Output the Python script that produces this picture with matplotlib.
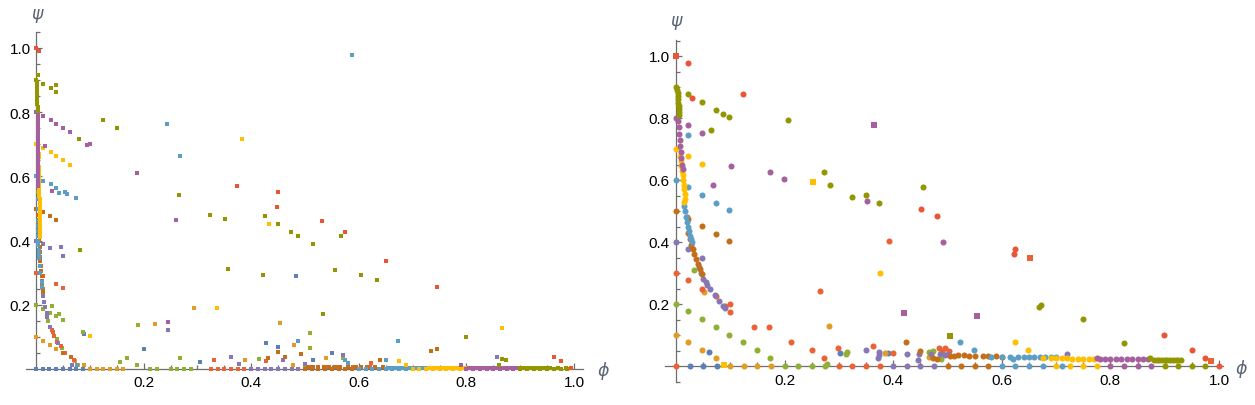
import matplotlib
matplotlib.use("Agg")
import matplotlib.pyplot as plt
from matplotlib.ticker import FixedLocator, FormatStrFormatter

# Mathematica default palette (series index 1..11)
palette = ["#5E81B5", "#E19C24", "#8FB032", "#EB6235", "#8778B3", "#C56E1A",
           "#5D9EC7", "#FFBF00", "#A5609D", "#929600", "#E95536"]

# ---------------- LEFT PANEL DATA (phi, psi) ----------------
left_blue = [(0.0, 0), (0.0125, 0), (0.025, 0), (0.0375, 0), (0.05, 0), (0.0625, 0), (0.075, 0), (0.0875, 0),
             (0.09, 0.108), (0.2, 0.061), (0.305, 0.021), (0.483, 0.289), (0.4275, 0.08), (0.449, 0.067),
             (0.515, 0.027), (0.551, 0.049)]
left_orange = [(0.1, 0), (0.1125, 0), (0.125, 0), (0.1375, 0), (0.15, 0), (0.1625, 0),
               (0.0, 0.1), (0.0136, 0.086), (0.026, 0.074), (0.038, 0.061), (0.073, 0.025), (0.0885, 0.012),
               (0.0785, 0.012), (0.222, 0.139), (0.294, 0.189), (0.454, 0.142), (0.48, 0.074), (0.389, 0.027),
               (0.478, 0.012), (0.539, 0.033)]
left_green = [(0.2125, 0), (0.225, 0), (0.25, 0), (0.2625, 0), (0.275, 0), (0.2875, 0),
              (0.0, 0.2), (0.0136, 0.188), (0.029, 0.195), (0.026, 0.176), (0.038, 0.164), (0.043, 0.17),
              (0.051, 0.152), (0.023, 0.148), (0.0385, 0.093), (0.048, 0.064), (0.088, 0.114),
              (0.156, 0.023), (0.17, 0.033), (0.19, 0.136), (0.188, 0.011), (0.268, 0.033), (0.415, 0.03),
              (0.51, 0.111), (0.51, 0.064), (0.5, 0.006), (0.571, 0.033)]
left_red = [(0.325, 0), (0.3375, 0), (0.35, 0), (0.3625, 0), (0.375, 0), (0.3875, 0),
            (0.0, 0.3), (0.0136, 0.289), (0.038, 0.264), (0.051, 0.251),
            (0.021, 0.168), (0.029, 0.122), (0.031, 0.116), (0.034, 0.104), (0.0385, 0.085), (0.046, 0.071),
            (0.054, 0.049), (0.071, 0.027), (0.331, 0.027), (0.427, 0.026), (0.623, 0.018),
            (0.51, 0.005), (0.54, 0.005), (0.56, 0.005), (0.59, 0.005), (0.62, 0.005)]
left_purple = [(0.4, 0), (0.4125, 0), (0.425, 0), (0.4375, 0), (0.45, 0), (0.4625, 0), (0.475, 0), (0.4875, 0),
               (0.0, 0.4), (0.0136, 0.388), (0.026, 0.376), (0.046, 0.379), (0.051, 0.351),
               (0.0136, 0.227), (0.015, 0.21), (0.017, 0.192), (0.020, 0.176), (0.021, 0.161), (0.026, 0.13),
               (0.0415, 0.08), (0.0675, 0.014), (0.246, 0.121), (0.362, 0.036), (0.377, 0.016), (0.46, 0.027),
               (0.5, 0.015), (0.571, 0.043), (0.856, 0.036), (0.86, 0.006)]
left_dorange = [(0.5, 0), (0.5125, 0), (0.525, 0), (0.5375, 0), (0.55, 0), (0.5625, 0), (0.575, 0), (0.5875, 0),
                (0.0, 0.5), (0.0136, 0.488), (0.026, 0.476), (0.038, 0.463),
                (0.003, 0.5), (0.003, 0.48), (0.004, 0.465), (0.004, 0.45), (0.005, 0.435), (0.006, 0.42),
                (0.006, 0.4), (0.007, 0.38), (0.007, 0.365), (0.008, 0.35), (0.008, 0.335), (0.009, 0.32),
                (0.0095, 0.305), (0.0105, 0.29), (0.011, 0.275), (0.012, 0.26), (0.013, 0.25), (0.0136, 0.239),
                (0.051, 0.049), (0.0645, 0.036),
                (0.45, 0.052), (0.463, 0.036), (0.432, 0.033), (0.493, 0.046), (0.64, 0.027), (0.735, 0.055),
                (0.746, 0.061),
                (0.505, 0.005), (0.515, 0.005), (0.525, 0.005), (0.535, 0.005), (0.545, 0.005), (0.555, 0.005),
                (0.565, 0.005), (0.58, 0.005), (0.595, 0.005), (0.605, 0.005), (0.615, 0.005), (0.63, 0.005),
                (0.645, 0.005)]
left_lblue = [(0.6, 0), (0.6125, 0), (0.625, 0), (0.6375, 0), (0.65, 0), (0.6625, 0), (0.675, 0), (0.6875, 0),
              (0.0, 0.6), (0.0136, 0.587), (0.027, 0.575), (0.038, 0.563), (0.043, 0.547), (0.054, 0.55),
              (0.058, 0.544), (0.075, 0.532),
              (0.004, 0.40), (0.0045, 0.385), (0.005, 0.37), (0.0055, 0.357), (0.006, 0.345), (0.007, 0.32),
              (0.008, 0.3), (0.0105, 0.27), (0.012, 0.255),
              (0.003, 0.415), (0.003, 0.43), (0.003, 0.445), (0.003, 0.46), (0.003, 0.5), (0.003, 0.53),
              (0.003, 0.55), (0.003, 0.57),
              (0.244, 0.762), (0.268, 0.665), (0.588, 0.977), (0.4875, 0.086), (0.672, 0.086), (0.65, 0.027),
              (0.0765, 0.012), (0.575, 0.027), (0.58, 0.018),
              (0.655, 0.004), (0.662, 0.004), (0.669, 0.004), (0.676, 0.004), (0.683, 0.004), (0.69, 0.004),
              (0.697, 0.004), (0.704, 0.004), (0.711, 0.004), (0.718, 0.004), (0.725, 0.004)]
left_yellow = [(0.7, 0), (0.7125, 0), (0.725, 0), (0.7375, 0), (0.75, 0), (0.7625, 0), (0.775, 0), (0.7875, 0),
               (0.0, 0.7), (0.0136, 0.687), (0.027, 0.675), (0.038, 0.662), (0.051, 0.65), (0.064, 0.637),
               (0.004, 0.68), (0.005, 0.67), (0.005, 0.66), (0.004, 0.65), (0.004, 0.64), (0.005, 0.63),
               (0.005, 0.62), (0.005, 0.61), (0.005, 0.6), (0.006, 0.59), (0.006, 0.58), (0.006, 0.57),
               (0.006, 0.56), (0.006, 0.55), (0.006, 0.54), (0.007, 0.53), (0.007, 0.52), (0.007, 0.51),
               (0.007, 0.5), (0.007, 0.49), (0.007, 0.48), (0.008, 0.47), (0.008, 0.46), (0.008, 0.45),
               (0.008, 0.44), (0.008, 0.43), (0.008, 0.42), (0.008, 0.41),
               (0.382, 0.715), (0.434, 0.452), (0.337, 0.189), (0.1, 0.103), (0.867, 0.127), (0.675, 0.024),
               (0.688, 0.012),
               (0.73, 0.004), (0.737, 0.004), (0.744, 0.004), (0.751, 0.004), (0.758, 0.004), (0.765, 0.004),
               (0.772, 0.004), (0.779, 0.004), (0.786, 0.004), (0.793, 0.004), (0.8, 0.004)]
left_magenta = [(0.8, 0), (0.8125, 0), (0.825, 0), (0.8375, 0), (0.85, 0), (0.8625, 0), (0.875, 0), (0.8875, 0),
                (0.0, 0.8), (0.0136, 0.787), (0.027, 0.775), (0.038, 0.762), (0.051, 0.75), (0.064, 0.737),
                (0.017, 0.694), (0.095, 0.697), (0.101, 0.70), (0.03, 0.553), (0.188, 0.612), (0.26, 0.463),
                (0.246, 0.145), (0.79, 0.012),
                (0.003, 0.79), (0.003, 0.78), (0.003, 0.77), (0.003, 0.76), (0.003, 0.75), (0.003, 0.74),
                (0.004, 0.73), (0.004, 0.72), (0.004, 0.71), (0.004, 0.70), (0.004, 0.69), (0.004, 0.68),
                (0.004, 0.67), (0.004, 0.66), (0.004, 0.65), (0.004, 0.64), (0.004, 0.63), (0.004, 0.62),
                (0.004, 0.61), (0.004, 0.60), (0.004, 0.59), (0.004, 0.58), (0.004, 0.57),
                (0.805, 0.004), (0.812, 0.004), (0.819, 0.004), (0.826, 0.004), (0.833, 0.004), (0.84, 0.004),
                (0.847, 0.004), (0.854, 0.004), (0.861, 0.004), (0.868, 0.004), (0.875, 0.004), (0.882, 0.004),
                (0.889, 0.004), (0.896, 0.004)]
left_olive = [(0.9, 0), (0.9125, 0), (0.925, 0), (0.9375, 0), (0.95, 0), (0.9625, 0), (0.975, 0), (0.9875, 0),
              (0.0, 0.9), (0.004, 0.915), (0.0136, 0.887), (0.027, 0.874), (0.038, 0.884), (0.038, 0.862),
              (0.125, 0.775), (0.151, 0.75), (0.0805, 0.718), (0.082, 0.37),
              (0.001, 0.895), (0.001, 0.885), (0.001, 0.875), (0.001, 0.865), (0.001, 0.855), (0.001, 0.845),
              (0.002, 0.835), (0.002, 0.825), (0.003, 0.815), (0.003, 0.805),
              (0.265, 0.541), (0.324, 0.479), (0.352, 0.466), (0.356, 0.31), (0.4225, 0.292), (0.426, 0.476),
              (0.45, 0.452), (0.4745, 0.426), (0.4875, 0.413), (0.514, 0.388), (0.566, 0.413), (0.556, 0.307),
              (0.605, 0.292), (0.634, 0.276), (0.534, 0.17), (0.8, 0.099), (0.867, 0.031), (0.874, 0.027),
              (0.86, 0.012),
              (0.9, 0.004), (0.907, 0.004), (0.914, 0.004), (0.921, 0.004), (0.928, 0.004), (0.935, 0.004),
              (0.942, 0.004), (0.949, 0.004), (0.956, 0.004), (0.97, 0.003), (0.985, 0.003)]
left_red2 = [(0.0, 1.0), (0.006, 0.99), (0.374, 0.569), (0.45, 0.55), (0.4485, 0.504), (0.532, 0.46),
             (0.575, 0.426), (0.651, 0.338), (0.746, 0.254), (0.962, 0.036), (0.975, 0.024), (0.995, 0.003)]

# ---------------- RIGHT PANEL DATA (phi, psi) ----------------
right_blue = [(0.025, 0), (0.05, 0), (0.075, 0), (0.061, 0.044), (0.302, 0.042), (0.39, 0.041)]
right_orange = [(0.1, 0), (0.125, 0), (0.15, 0), (0.175, 0),
                (0.0, 0.1), (0.023, 0.076), (0.048, 0.052), (0.073, 0.025), (0.052, 0.24),
                (0.282, 0.128), (0.385, 0.041), (0.466, 0.03)]
right_green = [(0.2, 0), (0.225, 0), (0.25, 0), (0.275, 0),
               (0.0, 0.2), (0.023, 0.176), (0.048, 0.152), (0.073, 0.126), (0.098, 0.1), (0.124, 0.076),
               (0.149, 0.052), (0.173, 0.025), (0.034, 0.31),
               (0.3125, 0.04), (0.314, 0.045), (0.466, 0.046), (0.474, 0.048), (0.488, 0.021), (0.278, 0.005)]
right_red = [(0.0, 0), (0.3, 0), (0.325, 0), (0.35, 0), (0.375, 0),
             (0.0, 0.3), (0.023, 0.277), (0.048, 0.25), (0.073, 0.225), (0.09, 0.195), (0.1, 0.2), (0.0995, 0.173),
             (0.144, 0.125), (0.172, 0.125), (0.211, 0.076), (0.25, 0.052), (0.273, 0.025), (0.265, 0.241),
             (0.299, 0.057), (0.363, 0.066), (0.4, 0.041), (0.485, 0.057), (0.49, 0.048), (0.495, 0.057),
             (0.503, 0.048), (0.393, 0.402)]
right_purple = [(0.4, 0), (0.425, 0), (0.45, 0), (0.475, 0),
                (0.0, 0.4), (0.023, 0.376), (0.048, 0.35),
                (0.042, 0.32), (0.046, 0.30), (0.05, 0.28), (0.055, 0.27), (0.058, 0.262), (0.063, 0.25),
                (0.071, 0.229), (0.08, 0.209), (0.086, 0.195), (0.091, 0.187),
                (0.349, 0.052), (0.373, 0.036), (0.374, 0.044), (0.372, 0.025), (0.425, 0.039), (0.445, 0.018),
                (0.447, 0.039), (0.47, 0.039), (0.487, 0.039), (0.496, 0.035), (0.5, 0.039), (0.72, 0.038)]
right_dorange = [(0.5, 0), (0.525, 0), (0.55, 0), (0.575, 0),
                 (0.0, 0.5), (0.023, 0.475), (0.048, 0.451), (0.073, 0.425), (0.098, 0.402), (0.424, 0.076),
                 (0.45, 0.05), (0.474, 0.025), (0.48, 0.021),
                 (0.02, 0.48), (0.023, 0.43), (0.026, 0.41), (0.027, 0.39), (0.031, 0.377), (0.034, 0.36),
                 (0.037, 0.345), (0.041, 0.33), (0.045, 0.313), (0.048, 0.297),
                 (0.505, 0.032), (0.512, 0.033), (0.52, 0.034), (0.53, 0.034), (0.54, 0.033), (0.55, 0.032),
                 (0.565, 0.032), (0.575, 0.031), (0.59, 0.031), (0.6, 0.03)]
right_lblue = [(0.6, 0), (0.625, 0), (0.65, 0), (0.675, 0),
               (0.0, 0.6), (0.023, 0.576), (0.048, 0.551), (0.073, 0.525), (0.098, 0.502), (0.023, 0.745),
               (0.014, 0.517), (0.016, 0.50), (0.018, 0.48), (0.02, 0.465), (0.022, 0.45), (0.024, 0.435),
               (0.026, 0.42), (0.028, 0.41), (0.029, 0.40),
               (0.523, 0.076), (0.549, 0.052), (0.58, 0.03), (0.6, 0.03), (0.615, 0.03), (0.62, 0.022),
               (0.63, 0.03), (0.64, 0.03), (0.65, 0.03), (0.66, 0.03), (0.67, 0.029), (0.68, 0.028),
               (0.69, 0.028), (0.70, 0.028), (0.71, 0.0)]
right_yellow = [(0.7, 0), (0.725, 0), (0.75, 0), (0.775, 0),
                (0.0, 0.7), (0.023, 0.676), (0.048, 0.651),
                (0.008, 0.678), (0.009, 0.66), (0.01, 0.645), (0.011, 0.63), (0.012, 0.615), (0.013, 0.6),
                (0.014, 0.585), (0.015, 0.57), (0.016, 0.555), (0.017, 0.54), (0.014, 0.528),
                (0.376, 0.299), (0.625, 0.076), (0.649, 0.052),
                (0.675, 0.025), (0.69, 0.025), (0.7, 0.025), (0.71, 0.025), (0.72, 0.025), (0.73, 0.024),
                (0.74, 0.024), (0.75, 0.024), (0.76, 0.023), (0.77, 0.023)]
right_magenta = [(0.8, 0), (0.825, 0), (0.85, 0), (0.875, 0),
                 (0.0, 0.8), (0.023, 0.776), (0.048, 0.751), (0.102, 0.644), (0.174, 0.625), (0.198, 0.602),
                 (0.069, 0.583), (0.352, 0.531), (0.492, 0.399),
                 (0.004, 0.79), (0.005, 0.77), (0.006, 0.75), (0.007, 0.73), (0.008, 0.71), (0.009, 0.69),
                 (0.01, 0.67), (0.011, 0.65), (0.012, 0.635),
                 (0.775, 0.025), (0.78, 0.021), (0.79, 0.021), (0.80, 0.021), (0.81, 0.021), (0.82, 0.021),
                 (0.83, 0.021), (0.84, 0.021), (0.85, 0.021), (0.86, 0.021), (0.87, 0.021)]
right_olive = [(0.9, 0), (0.925, 0), (0.95, 0), (0.975, 0),
               (0.0, 0.9), (0.023, 0.876), (0.048, 0.851), (0.073, 0.825), (0.087, 0.812), (0.098, 0.802),
               (0.207, 0.793), (0.065, 0.76), (0.273, 0.625), (0.284, 0.583), (0.325, 0.545), (0.349, 0.551),
               (0.374, 0.525), (0.455, 0.576), (0.668, 0.189), (0.673, 0.197), (0.75, 0.152), (0.825, 0.073),
               (0.873, 0.025),
               (0.002, 0.89), (0.003, 0.88), (0.003, 0.87), (0.004, 0.86), (0.004, 0.85), (0.005, 0.84),
               (0.005, 0.83), (0.006, 0.82), (0.006, 0.81),
               (0.88, 0.02), (0.885, 0.02), (0.89, 0.02), (0.895, 0.02), (0.9, 0.019), (0.905, 0.019),
               (0.91, 0.018), (0.915, 0.018), (0.92, 0.018), (0.925, 0.018), (0.93, 0.018)]
right_red2 = [(1.0, 0), (0.023, 0.976), (0.030, 0.864), (0.124, 0.876), (0.452, 0.506), (0.48, 0.483),
              (0.625, 0.377), (0.622, 0.36), (0.899, 0.1), (0.951, 0.052), (0.975, 0.025)]
# square markers in the right panel: (phi, psi, palette index)
right_squares = [(0.0, 1.0, 10), (0.0875, 0.003, 7), (0.252, 0.593, 7), (0.365, 0.776, 8), (0.419, 0.171, 8),
                 (0.554, 0.16, 8), (0.505, 0.096, 9), (0.652, 0.35, 3), (0.986, 0.015, 3)]

left_series = [left_blue, left_orange, left_green, left_red, left_purple, left_dorange,
               left_lblue, left_yellow, left_magenta, left_olive, left_red2]
right_series = [right_blue, right_orange, right_green, right_red, right_purple, right_dorange,
                right_lblue, right_yellow, right_magenta, right_olive, right_red2]

W, H = 1255, 406
fig = plt.figure(figsize=(W / 100, H / 100), dpi=100)

axis_col = "#6e6e6e"
label_col = "#5b6575"


def setup(ax, xlim, ylim, xbounds, ybounds, xpad, ypad, yminors):
    ax.set_xlim(*xlim)
    ax.set_ylim(*ylim)
    for s in ("top", "right"):
        ax.spines[s].set_visible(False)
    ax.spines["left"].set_position(("data", 0))
    ax.spines["bottom"].set_position(("data", 0))
    ax.spines["left"].set_bounds(*ybounds)
    ax.spines["bottom"].set_bounds(*xbounds)
    for s in ("left", "bottom"):
        ax.spines[s].set_color(axis_col)
        ax.spines[s].set_linewidth(0.9)
    majors = [0.2, 0.4, 0.6, 0.8, 1.0]
    ax.xaxis.set_major_locator(FixedLocator(majors))
    ax.yaxis.set_major_locator(FixedLocator(majors))
    xminors = [0.05, 0.1, 0.15, 0.25, 0.3, 0.35, 0.45, 0.5, 0.55, 0.65, 0.7, 0.75, 0.85, 0.9, 0.95]
    ax.xaxis.set_minor_locator(FixedLocator(xminors))
    ax.yaxis.set_minor_locator(FixedLocator(yminors))
    ax.xaxis.set_major_formatter(FormatStrFormatter("%.1f"))
    ax.yaxis.set_major_formatter(FormatStrFormatter("%.1f"))
    ax.tick_params(which="both", direction="in", color=axis_col, width=0.9,
                   labelsize=11, labelcolor="black")
    ax.tick_params(which="major", length=4.5)
    ax.tick_params(which="minor", length=2.8)
    ax.tick_params(axis="x", which="both", pad=xpad)
    ax.tick_params(axis="y", which="both", pad=ypad)
    for lab in ax.get_xticklabels() + ax.get_yticklabels():
        lab.set_fontfamily("Liberation Sans")
    ax.patch.set_alpha(0)


# ---- left axes ----
lx0, lsx, ly0, lsy = 36, 538, 370, 321
lxlim = (-0.0186, 1.0167)
lylim = (-0.04, 1.05)
axL = fig.add_axes([(lx0 + lxlim[0] * lsx) / W, (H - (ly0 - lylim[0] * lsy)) / H,
                    (lxlim[1] - lxlim[0]) * lsx / W, (lylim[1] - lylim[0]) * lsy / H])
setup(axL, lxlim, lylim, lxlim, (0, 1.05), 4.5, 3.6,
      [0.05, 0.1, 0.15, 0.25, 0.3, 0.35, 0.45, 0.5, 0.55, 0.65, 0.7, 0.75, 0.85, 0.9, 0.95, 1.05])
for i, pts in enumerate(left_series):
    xs, ys = zip(*pts)
    axL.scatter(xs, ys, s=6.5, marker="s", color=palette[i], linewidths=0, clip_on=False, zorder=3)

# ---- right axes ----
rx0, rsx, ry0, rsy = 676, 543, 367, 310
rxlim = (-0.0203, 1.0074)
rylim = (-0.0516, 1.0516)
axR = fig.add_axes([(rx0 + rxlim[0] * rsx) / W, (H - (ry0 - rylim[0] * rsy)) / H,
                    (rxlim[1] - rxlim[0]) * rsx / W, (rylim[1] - rylim[0]) * rsy / H])
setup(axR, rxlim, rylim, rxlim, rylim, 5.0, 4.6,
      [-0.05, 0.05, 0.1, 0.15, 0.25, 0.3, 0.35, 0.45, 0.5, 0.55, 0.65, 0.7, 0.75, 0.85, 0.9, 0.95, 1.05])
for i, pts in enumerate(right_series):
    xs, ys = zip(*pts)
    axR.scatter(xs, ys, s=19, marker="o", color=palette[i], linewidths=0, clip_on=False, zorder=3)
for (x, y, c) in right_squares:
    axR.scatter([x], [y], s=17, marker="s", color=palette[c], linewidths=0, clip_on=False, zorder=4)

# axis labels
for (px, py, t) in [(37.5, 14, "ψ"), (603, 371.5, "ϕ"), (676, 21.5, "ψ"), (1241.5, 369, "ϕ")]:
    fig.text(px / W, 1 - py / H, t, ha="center", va="center", fontsize=12.5,
             style="italic", color=label_col, family="DejaVu Sans")

fig.savefig("out.png", dpi=100)
